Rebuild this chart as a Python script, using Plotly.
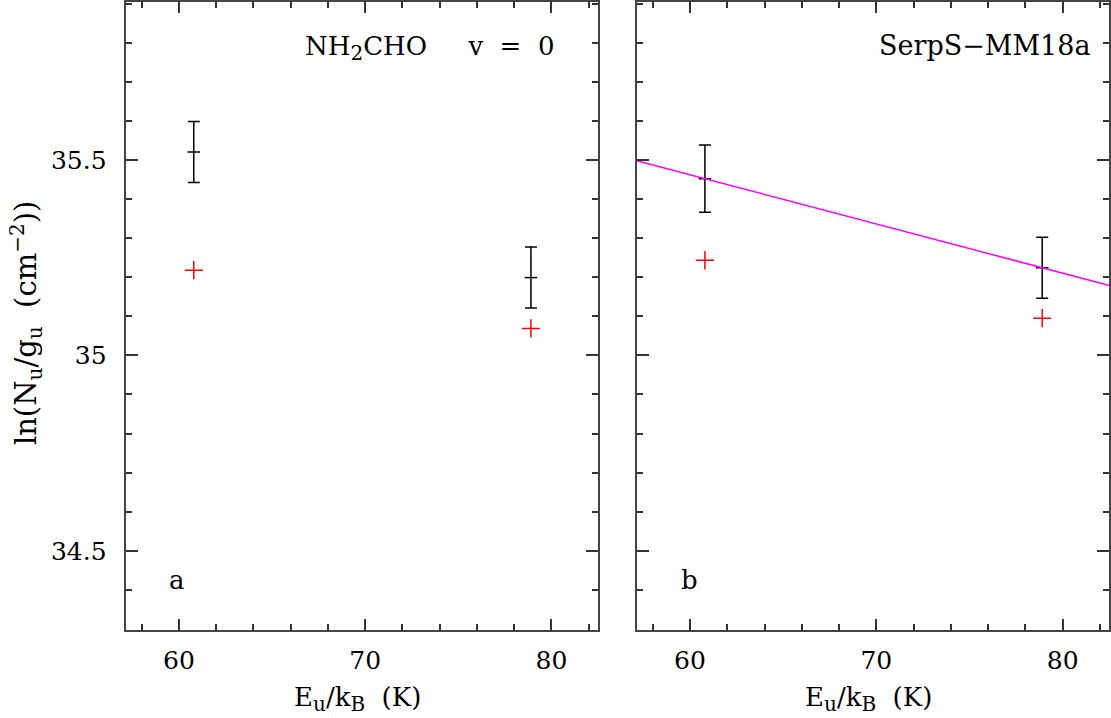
import numpy as np
import plotly.graph_objects as go

# ---- data ----
eu = [60.8, 78.9]                     # E_u/k_B (K)
left_obs = [35.52, 35.199]            # panel a observed ln(Nu/gu)
left_err = [0.078, 0.078]
left_model = [35.218, 35.069]         # red crosses, panel a
right_obs = [35.452, 35.224]          # panel b observed
right_err = [0.086, 0.078]
right_model = [35.243, 35.095]        # red crosses, panel b
x_range = [57.14, 82.5]
y_range = [34.2985, 35.904]
x_ticks = [60, 70, 80]
y_ticks = [34.5, 35, 35.5]

FONT = "DejaVu Serif"
FS = 25

fig = go.Figure()

def add_panel(xa, ya, obs, err, model):
    fig.add_trace(go.Scatter(
        x=eu, y=obs, xaxis=xa, yaxis=ya, mode="markers",
        marker=dict(symbol="line-ew", size=9, color="black",
                    line=dict(color="black", width=1.5)),
        error_y=dict(type="data", array=err, symmetric=True,
                     color="black", thickness=1.5, width=6),
        showlegend=False))
    fig.add_trace(go.Scatter(
        x=eu, y=model, xaxis=xa, yaxis=ya, mode="markers",
        marker=dict(symbol="cross-thin", size=13, color="red",
                    line=dict(color="red", width=1.5)),
        showlegend=False))

add_panel("x", "y", left_obs, left_err, left_model)
add_panel("x2", "y2", right_obs, right_err, right_model)

# rotational-diagram fit through panel b points
slope, intercept = np.polyfit(eu, right_obs, 1)
fx = np.array(x_range)
fig.add_trace(go.Scatter(
    x=fx, y=slope * fx + intercept, xaxis="x2", yaxis="y2", mode="lines",
    line=dict(color="#ff00ff", width=1.5), showlegend=False))

W, H = 1111, 718
axis_common = dict(
    showline=True, linecolor="#444", linewidth=2, mirror="ticks",
    ticks="inside", tickwidth=1.5, tickcolor="#333", showgrid=False,
    zeroline=False, tickfont=dict(family=FONT, size=FS, color="black"),
)
xcommon = dict(axis_common, range=x_range, tickvals=x_ticks, ticklen=11,
               ticklabelstandoff=7,
               minor=dict(dtick=2, tick0=0, ticklen=6, ticks="inside",
                          tickwidth=1.5, tickcolor="#333", showgrid=False))
ycommon = dict(axis_common, range=y_range, tickvals=y_ticks, ticklen=12,
               ticklabelstandoff=12,
               minor=dict(dtick=0.1, tick0=0, ticklen=6, ticks="inside",
                          tickwidth=1.5, tickcolor="#333", showgrid=False))

ydom = [1 - 629.3 / H, 1.0]
fig.update_layout(
    width=W, height=H,
    margin=dict(l=0, r=0, t=0, b=0),
    paper_bgcolor="white", plot_bgcolor="white",
    font=dict(family=FONT, size=FS, color="black"),
    xaxis=dict(xcommon, domain=[125.6 / W, 598 / W], anchor="y"),
    yaxis=dict(ycommon, domain=ydom, anchor="x"),
    xaxis2=dict(xcommon, domain=[636.7 / W, 1109.3 / W], anchor="y2"),
    yaxis2=dict(ycommon, domain=ydom, anchor="x2", showticklabels=False),
)

sub = lambda s: "<sub><span style='font-size:20px'>%s</span></sub>" % s
xtitle = "E" + sub("u") + "/k" + sub("B") + "&nbsp;&nbsp;(K)"
ann = [
    dict(text=xtitle, x=357 / W, y=1 - 699 / H, size=26),
    dict(text=xtitle, x=868 / W, y=1 - 699 / H, size=26),
    dict(text="ln(N" + sub("u") + "/g" + sub("u") + "&nbsp;&nbsp;(cm<sup><span style='font-size:20px'>−2</span></sup>))",
         x=26 / W, y=1 - 322 / H, textangle=-90, size=29),
    dict(text="NH" + sub("2") + "CHO&nbsp;&nbsp;&nbsp;&nbsp;&nbsp;v&nbsp;&nbsp;=&nbsp;&nbsp;0",
         x=429 / W, y=1 - 46 / H, size=26),
    dict(text="SerpS−MM18a", x=985 / W, y=1 - 44 / H, size=27),
    dict(text="a", x=177 / W, y=1 - 580 / H, size=26),
    dict(text="b", x=689 / W, y=1 - 580 / H, size=26),
]
for a in ann:
    s = a.pop("size")
    a.update(xref="paper", yref="paper", showarrow=False,
             xanchor="center", yanchor="middle",
             font=dict(family=FONT, size=s, color="black"))
fig.update_layout(annotations=ann)

fig.write_html("out.html", config={"displayModeBar": False},
               post_script="document.body.style.margin='0px';")
